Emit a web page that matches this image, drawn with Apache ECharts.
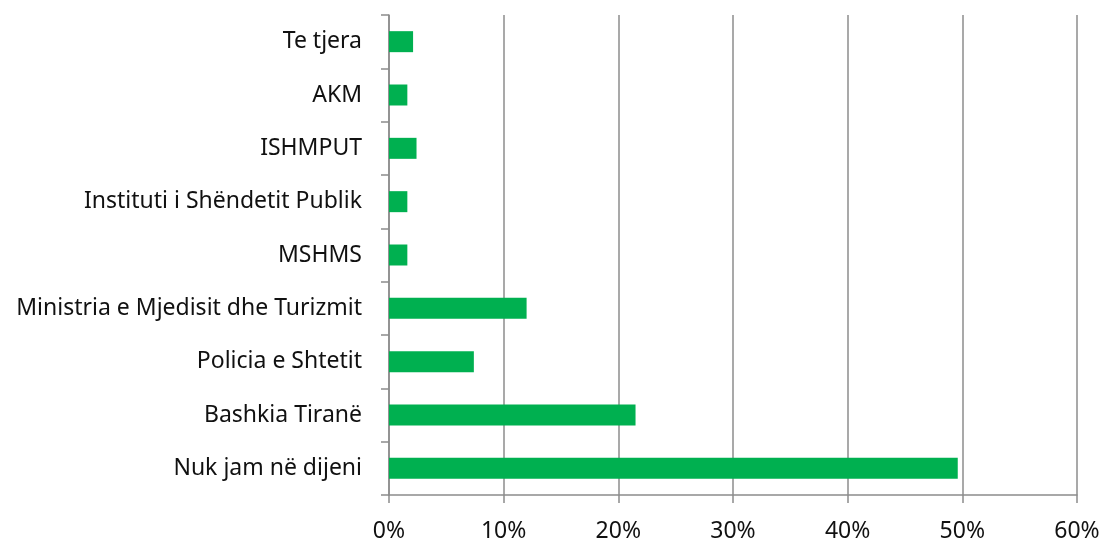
<!DOCTYPE html>
<html>
<head>
<meta charset="utf-8">
<script src="https://cdn.jsdelivr.net/npm/echarts@6/dist/echarts.min.js"></script>
<style>
  html, body { margin: 0; padding: 0; background: #fff; }
  #chart { width: 1104px; height: 539px; }
</style>
</head>
<body>
<div id="chart"></div>
<script>
// categories from bottom to top
const categories = [
  'Nuk jam në dijeni',
  'Bashkia Tiranë',
  'Policia e Shtetit',
  'Ministria e Mjedisit dhe Turizmit',
  'MSHMS',
  'Instituti i Shëndetit Publik',
  'ISHMPUT',
  'AKM',
  'Te tjera'
]
const shares = [49.6, 21.5, 7.4, 12.0, 1.6, 1.6, 2.4, 1.6, 2.1]
const xTicks = [0, 10, 20, 30, 40, 50, 60]

const gridGray = '#8c8c8c'
const fontFamily = '"Noto Sans", "Open Sans", sans-serif'

const chart = echarts.init(document.getElementById('chart'))
chart.setOption({
  animation: false,
  grid: { left: 389, right: 27, top: 15, bottom: 44, containLabel: false, outerBoundsMode: 'none' },
  xAxis: {
    type: 'value',
    min: xTicks[0],
    max: xTicks[xTicks.length - 1],
    interval: 10,
    axisLine: { show: true, lineStyle: { color: gridGray, width: 1.5 } },
    axisTick: { show: true, length: 8, lineStyle: { color: gridGray, width: 1.5 } },
    splitLine: { show: true, lineStyle: { color: gridGray, width: 1.5 } },
    axisLabel: {
      formatter: '{value}%',
      color: '#111',
      fontSize: 23,
      fontFamily: fontFamily,
      margin: 25
    }
  },
  yAxis: {
    type: 'category',
    data: categories,
    axisLine: { show: true, lineStyle: { color: gridGray, width: 1.5 } },
    axisTick: { show: true, length: 8, lineStyle: { color: gridGray, width: 1.5 } },
    axisLabel: {
      color: '#111',
      fontSize: 23,
      fontFamily: fontFamily,
      margin: 27
    }
  },
  series: [{
    type: 'bar',
    data: shares,
    barWidth: 21,
    itemStyle: { color: '#00b050' }
  }]
})
</script>
</body>
</html>
